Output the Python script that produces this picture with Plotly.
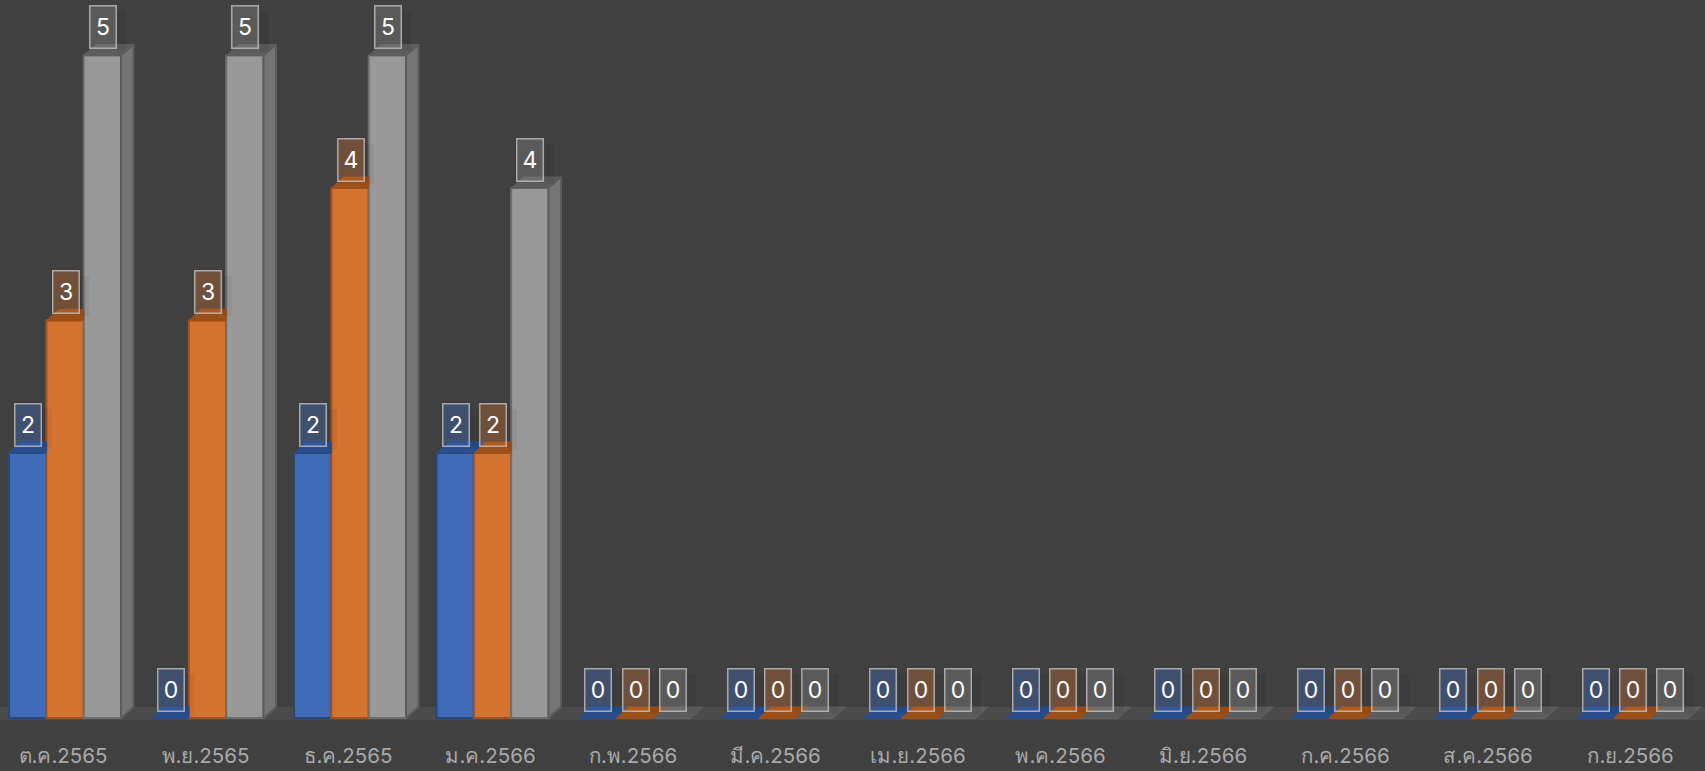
import plotly.graph_objects as go

months = ["ต.ค.2565", "พ.ย.2565", "ธ.ค.2565", "ม.ค.2566", "ก.พ.2566", "มี.ค.2566",
          "เม.ย.2566", "พ.ค.2566", "มิ.ย.2566", "ก.ค.2566", "ส.ค.2566", "ก.ย.2566"]
series_a = [2, 0, 2, 2, 0, 0, 0, 0, 0, 0, 0, 0]
series_b = [3, 3, 4, 2, 0, 0, 0, 0, 0, 0, 0, 0]
series_c = [5, 5, 5, 4, 0, 0, 0, 0, 0, 0, 0, 0]

SERIES = [
    dict(v=series_a, front="#3f6ab5", line="#25477f", top="#2a4d8c", box="rgba(63,106,181,0.40)"),
    dict(v=series_b, front="#d6722f", line="#a4501a", top="#9c5019", box="rgba(214,114,47,0.32)"),
    dict(v=series_c, front="#999999", line="#6d6d6d", top="#5c5c5c", box="rgba(153,153,153,0.30)"),
]
W, H = 1705, 771
STEP = 142.5
X0 = 65.0
BASE = 718.5
UNIT = 132.6
BOTTOM = 720.5
xr = [-X0 / STEP, (W - X0) / STEP]
yr = [-(BOTTOM - BASE) / UNIT, BASE / UNIT]
bw = (1 - 0.214) / 3
dx = 12.5 / STEP
dy = 11 / UNIT
xs = list(range(len(months)))

fig = go.Figure()
for s in SERIES:
    fig.add_trace(go.Bar(x=xs, y=s["v"], marker=dict(color=s["front"], line=dict(color=s["line"], width=2)),
                         hoverinfo="skip", showlegend=False))

for k, s in enumerate(SERIES):
    tx, ty = [], []
    for i, v in enumerate(s["v"]):
        a = i + (k - 1.5) * bw
        b = a + bw
        nxt = SERIES[k + 1]["v"][i] if k < 2 else None
        if nxt is not None and nxt > v:
            px = [a, b, b, a + dx, a]
            py = [v, v, v + dy, v + dy, v]
        else:
            px = [a, b, b + dx, a + dx, a]
            py = [v, v, v + dy, v + dy, v]
        tx += px + [None]
        ty += py + [None]
    fig.add_trace(go.Scatter(x=tx, y=ty, mode="lines", fill="toself", fillcolor=s["top"],
                             line=dict(color=s["top"], width=1), hoverinfo="skip", showlegend=False))
    if k == 2:
        sx, sy = [], []
        for i, v in enumerate(s["v"]):
            if v <= 0:
                continue
            b = i + (k - 0.5) * bw
            sx += [b, b, b + dx, b + dx, b, None]
            sy += [0, v, v + dy, dy, 0, None]
        fig.add_trace(go.Scatter(x=sx, y=sy, mode="lines", fill="toself", fillcolor="#757575",
                                 line=dict(color="#5c5c5c", width=2), hoverinfo="skip", showlegend=False))

annotations = []
for k, s in enumerate(SERIES):
    for i, v in enumerate(s["v"]):
        annotations.append(dict(
            x=i + (k - 1) * bw, y=v, xref="x", yref="y", text=" ", showarrow=False,
            xanchor="center", yanchor="bottom", yshift=4, xshift=19.5, width=9, height=40,
            bgcolor="rgba(0,0,0,0.05)", borderwidth=0, borderpad=0,
        ))
        annotations.append(dict(
            x=i + (k - 1) * bw, y=v, xref="x", yref="y", text=str(v), showarrow=False,
            xanchor="center", yanchor="bottom", yshift=6, xshift=0.5, width=25, height=41,
            bgcolor=s["box"], bordercolor="rgba(200,200,200,0.75)", borderwidth=1.5, borderpad=0,
            font=dict(family="Inter, Noto Sans, sans-serif", size=23, color="#ffffff"),
        ))

fig.update_layout(
    width=W, height=H, autosize=False,
    margin=dict(l=0, r=0, t=0, b=H - BOTTOM, pad=0),
    paper_bgcolor="#404040", plot_bgcolor="#404040",
    barmode="group", bargap=0.214, bargroupgap=0,
    showlegend=False,
    annotations=annotations,
    shapes=[dict(type="rect", xref="paper", yref="y", x0=0, x1=1, y0=yr[0], y1=dy,
                 fillcolor="#4b4b4b", line=dict(width=0), layer="below")],
    xaxis=dict(range=xr, tickmode="array", tickvals=xs, ticktext=months, showgrid=False, zeroline=False,
               showline=False, ticks="outside", ticklen=17, tickcolor="rgba(0,0,0,0)", ticklabelshift=-2,
               tickfont=dict(family="Inter, Noto Sans, sans-serif", size=20.5, color="#a9a9a9")),
    yaxis=dict(range=yr, showgrid=False, zeroline=False, showline=False, showticklabels=False, ticks=""),
)
fig.write_html("out.html", config={"displayModeBar": False},
               post_script="document.body.style.margin='0';document.body.style.background='#404040';document.body.style.overflow='hidden';")
